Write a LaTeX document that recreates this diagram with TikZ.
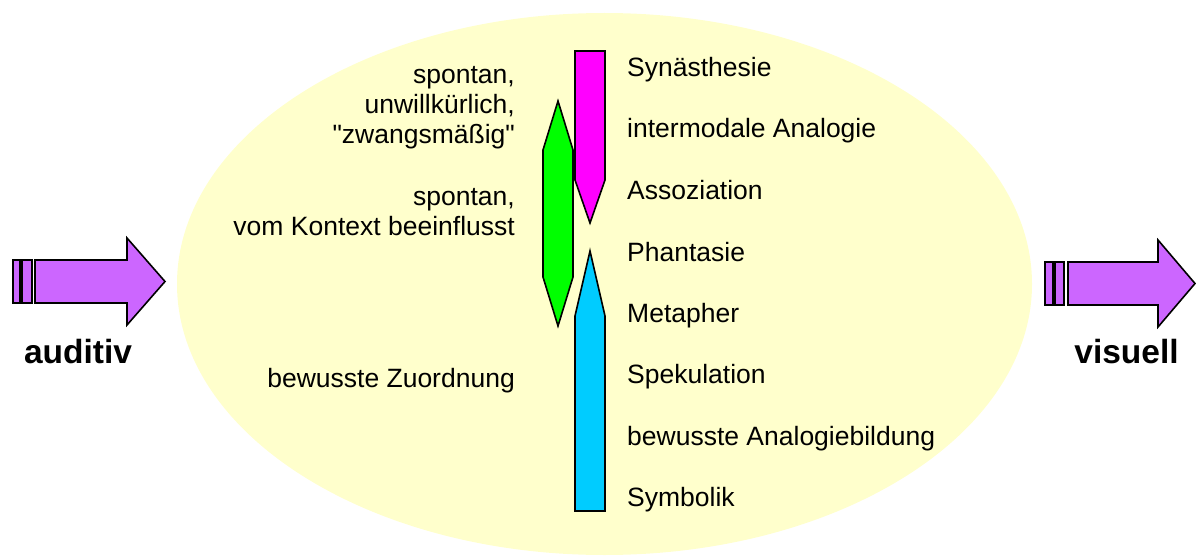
\documentclass[tikz,border=0pt]{standalone}
\usepackage{fontspec}
\setmainfont{Liberation Sans}
\newfontfamily\arialf{Liberation Sans}
\definecolor{ellfill}{HTML}{FFFFCC}
\definecolor{arrfill}{HTML}{CC66FF}
\definecolor{magfill}{HTML}{FF00FF}
\definecolor{grnfill}{HTML}{00FF00}
\definecolor{cyafill}{HTML}{00CCFF}
\begin{document}
\begin{tikzpicture}[x=1pt,y=-1pt,
  outl/.style={draw=black,line width=1.6pt,line join=miter},
  lbl/.style={font=\arialf\fontsize{26.5}{30}\selectfont,inner sep=0pt},
  lbll/.style={lbl,anchor=base east,align=right},
  lblr/.style={lbl,anchor=base west},
  big/.style={font=\arialf\fontsize{33.5}{36}\selectfont\bfseries,inner sep=0pt,anchor=base}]
\useasboundingbox (0,0) rectangle (1196,559);
% ellipse
\fill[ellfill] (604.5,284) ellipse [x radius=427.5, y radius=271];
% left arrow
\draw[outl,fill=arrfill] (13,260) rectangle (20,303);
\draw[outl,fill=arrfill] (22,260) rectangle (32,303);
\draw[outl,fill=arrfill] (35,260) -- (127,260) -- (127,238) -- (165,281.5) -- (127,325) -- (127,303) -- (35,303) -- cycle;
% right arrow
\draw[outl,fill=arrfill] (1045,262) rectangle (1053,305);
\draw[outl,fill=arrfill] (1055,262) rectangle (1064,305);
\draw[outl,fill=arrfill] (1068,262) -- (1158,262) -- (1158,240) -- (1195,283.5) -- (1158,327) -- (1158,305) -- (1068,305) -- cycle;
% magenta
\draw[outl,fill=magfill] (575,51) -- (605,51) -- (605,180) -- (590,223) -- (575,180) -- cycle;
% green
\draw[outl,fill=grnfill] (558,101) -- (573,150) -- (573,277) -- (558,326) -- (543,277) -- (543,150) -- cycle;
% cyan
\draw[outl,fill=cyafill] (590,251) -- (605,316) -- (605,511) -- (575,511) -- (575,316) -- cycle;
% labels left
\node[lbll] (l1) at (515,143) {spontan,\\unwillkürlich,\\"zwangsmäßig"};
\node[lbll] (l2) at (515,235) {spontan,\\vom Kontext beeinflusst};
\node[lbll] (l3) at (515,387) {bewusste Zuordnung};
% labels right
\node[lblr] (r1) at (627,76.5) {Synästhesie};
\node[lblr] (r2) at (627,138) {intermodale Analogie};
\node[lblr] (r3) at (627,199.5) {Assoziation};
\node[lblr] (r4) at (627,261) {Phantasie};
\node[lblr] (r5) at (627,322) {Metapher};
\node[lblr] (r6) at (627,383.5) {Spekulation};
\node[lblr] (r7) at (627,445) {bewusste Analogiebildung};
\node[lblr] (r8) at (627,506) {Symbolik};
% big labels
\node[big] (aud) at (78,363) {auditiv};
\node[big] (vis) at (1126.5,363) {visuell};
\end{tikzpicture}
\end{document}
